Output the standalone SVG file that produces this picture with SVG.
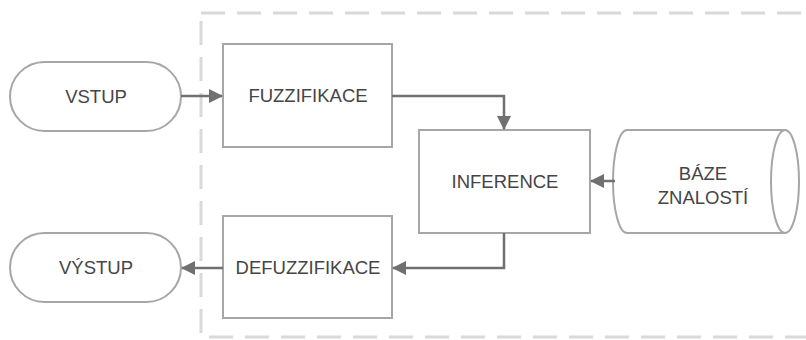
<svg xmlns="http://www.w3.org/2000/svg" width="806" height="340" viewBox="0 0 806 340">
<defs>
<style>
.node{fill:#ffffff;stroke:#a6a6a6;stroke-width:2}
.lbl{font-family:"Liberation Sans",Arial,sans-serif;font-size:18.5px;fill:#454545;text-anchor:middle}
.conn{fill:none;stroke:#707070;stroke-width:2.5}
.frame{fill:none;stroke:#d9d9d9;stroke-width:3;stroke-dasharray:24 12}
</style>
<marker id="ah" markerUnits="userSpaceOnUse" markerWidth="14" markerHeight="14" refX="13" refY="7" orient="auto">
<path d="M0,0 L14,7 L0,14 z" fill="#707070"/>
</marker>
</defs>
<rect width="806" height="340" fill="#ffffff"/>
<rect id="frame" class="frame" x="201" y="13" width="700" height="324"/>
<g id="vstup">
<rect class="node" x="10" y="62" width="171" height="69" rx="34.5" ry="34.5"/>
<text class="lbl" x="96" y="103">VSTUP</text>
</g>
<g id="fuzzifikace">
<rect class="node" x="223" y="44" width="169" height="103"/>
<text class="lbl" x="308" y="102">FUZZIFIKACE</text>
</g>
<g id="inference">
<rect class="node" x="419" y="130" width="171" height="103"/>
<text class="lbl" x="505" y="188">INFERENCE</text>
</g>
<g id="baze">
<path class="node" d="M627,130 L785,130 A14,51.5 0 0 1 785,233 L627,233 A14,51.5 0 0 1 627,130 Z"/>
<path class="node" d="M785,130 A14,51.5 0 0 0 785,233" fill="none"/>
<text class="lbl" x="703" y="180">BÁZE</text>
<text class="lbl" x="703" y="204">ZNALOSTÍ</text>
</g>
<g id="defuzzifikace">
<rect class="node" x="223" y="216" width="169" height="102"/>
<text class="lbl" x="308" y="274">DEFUZZIFIKACE</text>
</g>
<g id="vystup">
<rect class="node" x="10" y="233" width="171" height="69" rx="34.5" ry="34.5"/>
<text class="lbl" x="96" y="274">VÝSTUP</text>
</g>
<g id="connectors">
<path class="conn" d="M181,96 L222,96" marker-end="url(#ah)"/>
<path class="conn" d="M392,96 L504,96 L504,129" marker-end="url(#ah)"/>
<path class="conn" d="M615,181 L591,181" marker-end="url(#ah)"/>
<path class="conn" d="M504,233 L504,268 L393,268" marker-end="url(#ah)"/>
<path class="conn" d="M223,268 L182,268" marker-end="url(#ah)"/>
</g>
</svg>
